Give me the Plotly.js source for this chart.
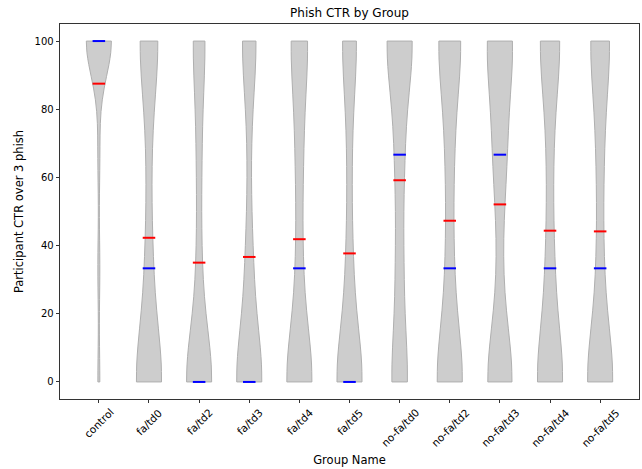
<!DOCTYPE html>
<html><head><meta charset="utf-8">
<script src="https://cdn.plot.ly/plotly-3.0.1.min.js"></script>
<style>html,body{margin:0;padding:0;background:#fff}#chart{width:642px;height:469px}</style>
</head><body><div id="chart"></div>
<script>
// Groups (x categories)
const groups = ['control','fa/td0','fa/td2','fa/td3','fa/td4','fa/td5','no-fa/td0','no-fa/td2','no-fa/td3','no-fa/td4','no-fa/td5'];
// CTR levels: clicked 0, 1, 2 or 3 of 3 phish (percent)
const ctrLevels = [0, 100/3, 200/3, 100];
// Participants per group at each CTR level
const count0 = [10, 75, 88, 83, 75, 82, 44, 66, 60, 70, 72];
const count1 = [10, 20, 16, 23, 17, 20, 20, 18, 10, 21, 17];
const count2 = [10, 12, 16,  9, 20, 13, 24, 19, 30, 15, 18];
const count3 = [130, 53, 40, 45, 48, 45, 72, 57, 60, 54, 53];
const yTicks = [0, 20, 40, 60, 80, 100];

function samplesFor(i){
  const c = [count0[i], count1[i], count2[i], count3[i]];
  const s = [];
  c.forEach((n, k) => { for (let j = 0; j < n; j++) s.push(ctrLevels[k]); });
  return s;
}
function mean(a){ return a.reduce((p,q)=>p+q,0)/a.length; }
function median(a){ const b=a.slice().sort((p,q)=>p-q); const m=b.length>>1; return b.length%2? b[m] : (b[m-1]+b[m])/2; }
function scottBw(a){ const m=mean(a); const v=a.reduce((p,q)=>p+(q-m)*(q-m),0)/(a.length-1); return Math.sqrt(v)*Math.pow(a.length,-0.2); }

const traces = [];
const mx=[], my=[], dx=[], dy=[];
const half = 0.125;
groups.forEach((g, i) => {
  const s = samplesFor(i);
  const pos = i + 1;
  traces.push({
    type:'violin', name:g, x0:pos, y:s, width:0.5, scalemode:'width', spanmode:'hard',
    bandwidth: scottBw(s), points:false, box:{visible:false}, meanline:{visible:false},
    fillcolor:'rgb(205,205,205)', line:{color:'rgb(175,175,175)', width:1},
    opacity:1, hoverinfo:'skip', showlegend:false
  });
  const m = mean(s), md = median(s);
  mx.push(pos-half, pos+half, null); my.push(m, m, null);
  dx.push(pos-half, pos+half, null); dy.push(md, md, null);
});
traces.push({type:'scatter', mode:'lines', x:mx, y:my, line:{color:'#ff0000', width:2}, hoverinfo:'skip', showlegend:false});
traces.push({type:'scatter', mode:'lines', x:dx, y:dy, line:{color:'#0000ff', width:2}, hoverinfo:'skip', showlegend:false});

const annotations = groups.map((g, i) => ({
  text:g, x:i+1, xref:'x', y:0, yref:'paper', yshift:-6, xanchor:'center', yanchor:'top',
  textangle:-45, showarrow:false, font:{family:'DejaVu Sans, sans-serif', size:10.5, color:'#000'}, borderpad:0
}));

const layout = {
  width:642, height:469,
  margin:{l:60, r:3, t:24, b:70, pad:0},
  paper_bgcolor:'#fff', plot_bgcolor:'#fff',
  font:{family:'DejaVu Sans, sans-serif', size:10, color:'#000'},
  title:{text:'Phish CTR by Group', font:{size:12, color:'#000'}, xref:'paper', x:0.5, xanchor:'center', yref:'container', y:1-12.5/469, yanchor:'middle'},
  showlegend:false,
  violinmode:'overlay',
  xaxis:{type:'linear', range:[0.225, 11.775], tickvals:groups.map((g,i)=>i+1), showticklabels:false,
    ticks:'outside', ticklen:3.5, tickwidth:0.8, tickcolor:'#000', showline:true, mirror:true, linecolor:'#000', linewidth:0.8,
    showgrid:false, zeroline:false, automargin:false,
    title:{text:'Group Name', font:{size:11.5}, standoff:53}},
  yaxis:{range:[-5, 105], tickvals:yTicks, ticktext:yTicks.map(String), ticks:'outside', ticklen:3.5, tickwidth:0.8, tickcolor:'#000',
    showline:true, mirror:true, linecolor:'#000', linewidth:0.8, showgrid:false, zeroline:false, automargin:false,
    title:{text:'Participant CTR over 3 phish', font:{size:11.5}, standoff:8}},
  annotations: annotations
};
Plotly.newPlot('chart', traces, layout, {staticPlot:true, displayModeBar:false});
</script></body></html>
